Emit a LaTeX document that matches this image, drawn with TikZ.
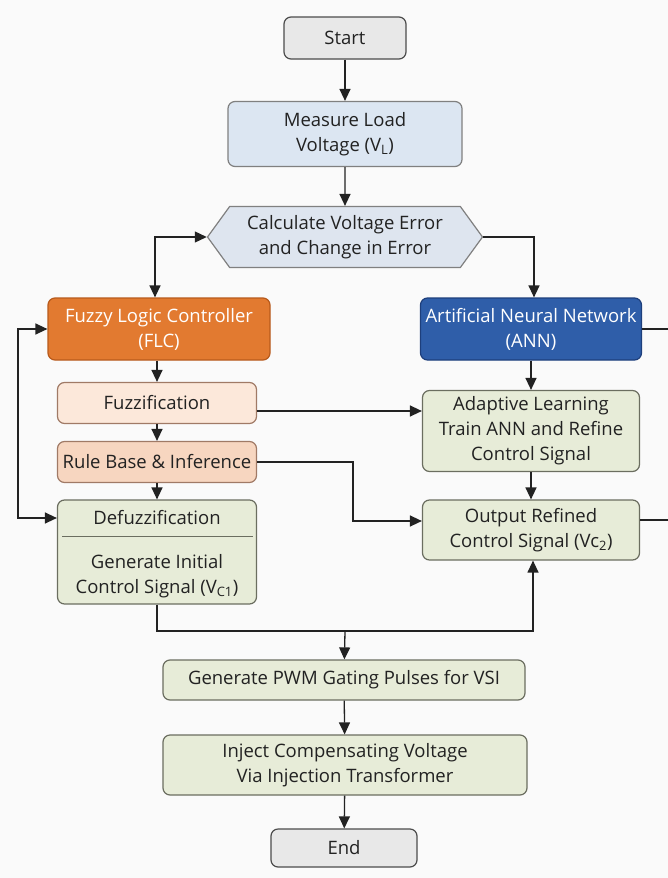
\documentclass[tikz,border=0pt]{standalone}
\usepackage{fontspec}
\setmainfont{Open Sans}
\usetikzlibrary{arrows.meta,shapes.symbols}

\definecolor{bgcol}{HTML}{FAFAFA}
\definecolor{linecol}{HTML}{222222}
\definecolor{txtcol}{HTML}{222222}
\definecolor{termfill}{HTML}{E8E8E8}
\definecolor{bluefill}{HTML}{DCE6F2}
\definecolor{hexfill}{HTML}{DEE5EF}
\definecolor{flcfill}{HTML}{E27A30}
\definecolor{flcdraw}{HTML}{B75A1C}
\definecolor{annfill}{HTML}{2F5EA9}
\definecolor{anndraw}{HTML}{1E3F7C}
\definecolor{fuzzfill}{HTML}{FCE8DA}
\definecolor{rulefill}{HTML}{F7D6C0}
\definecolor{peachdraw}{HTML}{A07A66}
\definecolor{greenfill}{HTML}{E7ECD8}
\definecolor{greendraw}{HTML}{6B6E60}

\begin{document}
\begin{tikzpicture}[
  x=1pt, y=-1pt,
  font=\fontsize{18.5}{25}\selectfont,
  every node/.style={align=center, text=txtcol, inner sep=2pt},
  box/.style={draw=greendraw, fill=greenfill, line width=1.2pt, rounded corners=7pt},
  termbox/.style={box, draw=black!70, fill=termfill},
  bluebox/.style={box, draw=black!50, fill=bluefill},
  flcbox/.style={box, draw=flcdraw, fill=flcfill, text=white},
  annbox/.style={box, draw=anndraw, fill=annfill, text=white},
  fuzzbox/.style={box, draw=peachdraw, fill=fuzzfill},
  rulebox/.style={box, draw=peachdraw, fill=rulefill},
  hexbox/.style={shape=signal, signal to=west and east, signal pointer angle=108,
    draw=black!50, fill=hexfill, line width=1.2pt, inner sep=0pt},
  tip/.tip={Triangle[length=12pt,width=11pt]},
  arr/.style={draw=linecol, line width=1.3pt, -tip},
  lnk/.style={draw=linecol, line width=1.3pt},
]
% canvas
\fill[bgcol] (0,0) rectangle (668,878);
\clip (0,0) rectangle (668,878);

% main column
\node[termbox, minimum width=122pt, minimum height=42pt] (start) at (345,38) {Start};
\node[bluebox, minimum width=234pt, minimum height=65pt] (meas) at (345,134) {Measure Load\\Voltage (V\textsubscript{L})};
\node[hexbox, minimum width=275pt, minimum height=61pt] (err) at (345,237) {Calculate Voltage Error\\and Change in Error};

% FLC branch
\node[flcbox, minimum width=222pt, minimum height=62pt] (flc) at (159,329) {Fuzzy Logic Controller\\(FLC)};
\node[fuzzbox, minimum width=199pt, minimum height=41pt] (fuzz) at (157,403) {Fuzzification};
\node[rulebox, minimum width=199pt, minimum height=41pt] (rule) at (157,462) {Rule Base \& Inference};
\node[box, minimum width=199pt, minimum height=104pt] (defz) at (157,552) {};
\node (defzA) at (157,518) {Defuzzification};
\node (defzB) at (157,576) {Generate Initial\\Control Signal (V\textsubscript{C1})};
\draw[greendraw, line width=1pt] (62,536) -- (253,536);

% ANN branch
\node[annbox, minimum width=221pt, minimum height=62pt] (ann) at (531,329) {Artificial Neural Network\\(ANN)};
\node[box, minimum width=217pt, minimum height=81pt] (adapt) at (531,431) {Adaptive Learning\\Train ANN and Refine\\Control Signal};
\node[box, minimum width=217pt, minimum height=60pt] (outp) at (531,530) {Output Refined\\Control Signal (Vc\textsubscript{2})};

% output stage
\node[box, minimum width=362pt, minimum height=40pt] (pwm) at (344,680) {Generate PWM Gating Pulses for VSI};
\node[box, minimum width=364pt, minimum height=60pt] (inj) at (345,765) {Inject Compensating Voltage\\Via Injection Transformer};
\node[termbox, minimum width=146pt, minimum height=38pt] (stop) at (344,848) {End};

\coordinate (join) at (345,631);
\coordinate (leftrail) at (18,0);
\coordinate (rightrail) at (675,0);
\coordinate (outstub) at ([yshift=10pt]outp.east);

% connectors
\draw[arr] (start) -- (meas);
\draw[arr] (meas) -- (err);
\draw[arr, tip-tip] (err.west) -| ([xshift=-4pt]flc.north);
\draw[arr] (err.east) -| ([xshift=3pt]ann.north);
\draw[arr] ([xshift=-2pt]flc.south) -- (fuzz);
\draw[arr] (fuzz) -- (rule);
\draw[arr] (rule) -- (defz);
\draw[arr] (ann) -- (adapt);
\draw[arr] (adapt) -- (outp);
\draw[arr] ([yshift=-8pt]fuzz.east) -- ([yshift=-8pt]fuzz.east -| adapt.west);
\draw[arr] (rule.east) -- ++(96,0) |- ([yshift=9pt]outp.west);
\draw[arr, tip-tip] (flc.west) -| (leftrail |- defzA) -- (defzA -| defz.west);
\draw[lnk] (ann.east) -| (rightrail |- outstub) -- (outstub);
\draw[arr] (defz.south) |- (join) -| ([xshift=2pt]outp.south);
\draw[arr] (join) -- (pwm);
\draw[arr] (pwm) -- (inj);
\draw[arr] (inj) -- (stop);
\end{tikzpicture}
\end{document}
